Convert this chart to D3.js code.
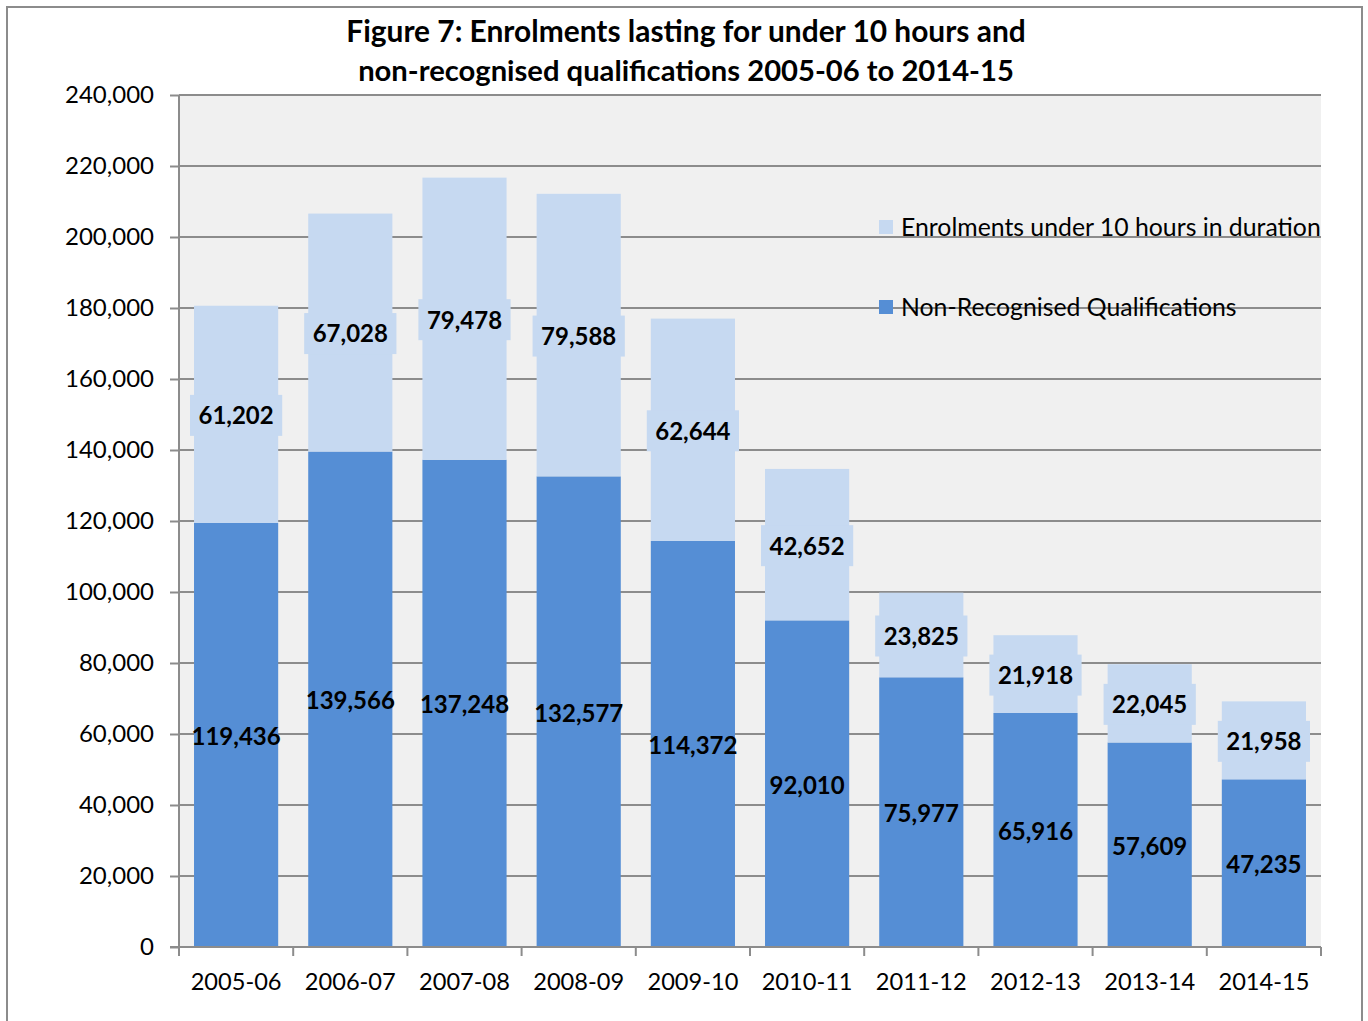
<!DOCTYPE html>
<html>
<head>
<meta charset="utf-8">
<script src="https://cdn.jsdelivr.net/npm/d3@7/dist/d3.min.js"></script>
<style>
  html, body { margin: 0; padding: 0; background: #fff; }
  svg { display: block; }
  text { font-family: Lato, "Open Sans", sans-serif; fill: #000; }
</style>
</head>
<body>
<svg id="chart" width="1368" height="1021"></svg>
<script>
// Academic years on the category axis
const years = ["2005-06", "2006-07", "2007-08", "2008-09", "2009-10",
               "2010-11", "2011-12", "2012-13", "2013-14", "2014-15"];
// Non-recognised qualifications (lower segment)
const nonRecognised = [119436, 139566, 137248, 132577, 114372,
                       92010, 75977, 65916, 57609, 47235];
// Enrolments under 10 hours in duration (upper segment)
const under10Hours = [61202, 67028, 79478, 79588, 62644,
                      42652, 23825, 21918, 22045, 21958];
// Value axis ticks
const yTicks = [0, 20000, 40000, 60000, 80000, 100000, 120000,
                140000, 160000, 180000, 200000, 220000, 240000];
const seriesNames = ["Enrolments under 10 hours in duration", "Non-Recognised Qualifications"];

const colDark = "#558ed5", colLight = "#c6d9f1";
const gridCol = "#8c8c8c";

const svg = d3.select("#chart");
const plot = { left: 179, right: 1321, top: 95, bottom: 947 };

// Outer chart frame
svg.append("rect")
  .attr("x", 7).attr("y", 7).attr("width", 1355).attr("height", 1030)
  .attr("fill", "#fff").attr("stroke", gridCol).attr("stroke-width", 2);

// Plot area background
svg.append("rect")
  .attr("x", plot.left).attr("y", plot.top)
  .attr("width", plot.right - plot.left).attr("height", plot.bottom - plot.top)
  .attr("fill", "#f0f0f0");

const x = d3.scaleBand().domain(years).range([plot.left, plot.right])
  .paddingInner(0.263).paddingOuter(0.1315);
const y = d3.scaleLinear().domain([0, 240000]).range([plot.bottom, plot.top]);

// Gridlines
svg.append("g").selectAll("line").data(yTicks.filter(d => d > 0)).join("line")
  .attr("x1", plot.left).attr("x2", plot.right)
  .attr("y1", d => y(d)).attr("y2", d => y(d))
  .attr("stroke", gridCol).attr("stroke-width", 2);

// Stacked data
const rows = years.map((yr, i) => ({ year: yr, nr: nonRecognised[i], u10: under10Hours[i] }));
const stack = d3.stack().keys(["nr", "u10"])(rows);
const colors = { nr: colDark, u10: colLight };

svg.append("g").selectAll("g").data(stack).join("g")
  .attr("fill", s => colors[s.key])
  .selectAll("rect").data(s => s).join("rect")
  .attr("x", d => x(d.data.year))
  .attr("width", x.bandwidth())
  .attr("y", d => y(d[1]))
  .attr("height", d => y(d[0]) - y(d[1]));

// Y axis
const yAxis = d3.axisLeft(y).tickValues(yTicks).tickSize(9).tickPadding(16)
  .tickFormat(d3.format(","));
const gy = svg.append("g").attr("transform", `translate(${plot.left},0)`).call(yAxis);
gy.select(".domain").attr("stroke", gridCol).attr("stroke-width", 2).attr("d", `M0,${plot.top}V${plot.bottom}`);
gy.selectAll(".tick line").attr("stroke", gridCol).attr("stroke-width", 2);
gy.selectAll(".tick text").attr("font-size", 24).attr("font-family", "Lato, sans-serif").attr("fill", "#000");

// X axis: tick marks at category boundaries
const boundaries = d3.range(years.length + 1).map(i => plot.left + i * x.step());
svg.append("line")
  .attr("x1", plot.left - 9).attr("x2", plot.right)
  .attr("y1", plot.bottom).attr("y2", plot.bottom)
  .attr("stroke", gridCol).attr("stroke-width", 2);
svg.append("g").selectAll("line").data(boundaries).join("line")
  .attr("x1", d => d).attr("x2", d => d)
  .attr("y1", plot.bottom).attr("y2", plot.bottom + 9)
  .attr("stroke", gridCol).attr("stroke-width", 2);
svg.append("g").selectAll("text").data(years).join("text")
  .attr("x", d => x(d) + x.bandwidth() / 2)
  .attr("y", plot.bottom + 35)
  .attr("dy", "0.35em")
  .attr("text-anchor", "middle")
  .attr("font-size", 23.6)
  .text(d => d);

// Data labels
const fmt = d3.format(",");
const labelLayer = svg.append("g");
stack.forEach(s => {
  s.forEach(d => {
    const cx = x(d.data.year) + x.bandwidth() / 2;
    const cy = (y(d[0]) + y(d[1])) / 2 + 1.5;
    const g = labelLayer.append("g");
    const t = g.append("text")
      .attr("x", cx).attr("y", cy).attr("dy", "0.35em")
      .attr("text-anchor", "middle")
      .attr("font-size", 24).attr("font-weight", "bold")
      .text(fmt(d[1] - d[0]));
    if (s.key === "u10") {
      const w = t.node().getComputedTextLength() + 17;
      g.insert("rect", "text")
        .attr("x", cx - w / 2).attr("y", cy - 21)
        .attr("width", w).attr("height", 41)
        .attr("fill", colLight);
    }
  });
});

// Legend
const legend = svg.append("g");
[[seriesNames[0], colLight, 227], [seriesNames[1], colDark, 307]].forEach(([name, c, ly]) => {
  legend.append("rect").attr("x", 879).attr("y", ly - 7).attr("width", 14).attr("height", 14).attr("fill", c);
  legend.append("text").attr("x", 901).attr("y", ly).attr("dy", "0.35em")
    .attr("font-size", 24.8).text(name);
});

// Title
const title = svg.append("text")
  .attr("text-anchor", "middle").attr("font-weight", "bold");
title.append("tspan").attr("x", 686).attr("y", 42).attr("font-size", 29.9)
  .text("Figure 7: Enrolments lasting for under 10 hours and");
title.append("tspan").attr("x", 686).attr("y", 81).attr("font-size", 29.2)
  .text("non-recognised qualifications 2005-06 to 2014-15");
</script>
</body>
</html>
